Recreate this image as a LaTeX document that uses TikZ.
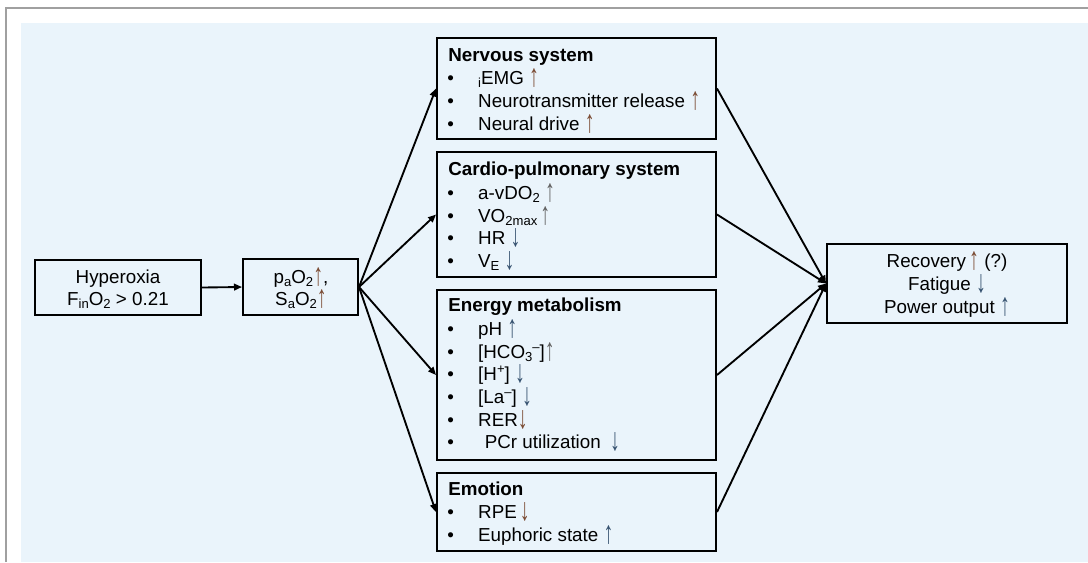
\documentclass[tikz,border=0pt]{standalone}
\usepackage{fontspec}
\setmainfont{Liberation Sans}
\usetikzlibrary{arrows.meta,fit}
\definecolor{panel}{HTML}{EAF4FB}
\definecolor{framegray}{HTML}{A0A0A0}
\definecolor{arrbr}{HTML}{7A4A32}
\definecolor{arrbl}{HTML}{34506E}
\definecolor{arrgy}{HTML}{606060}
\newcommand\lsub[1]{\raisebox{-2.8pt}{\fontsize{9.8}{10}\selectfont #1}}
\newcommand\lsup[1]{\raisebox{4.8pt}{\fontsize{9.8}{10}\selectfont #1}}
\newcommand\bul{\makebox[23.2pt][l]{•}}
\newcommand\ua[1][arrbr]{\textcolor{#1}{\smash{\raisebox{-1.6pt}{\scalebox{1.05}[1.7]{↑}}}}}
\newcommand\da[1][arrbl]{\textcolor{#1}{\smash{\raisebox{-1.6pt}{\scalebox{1.05}[1.7]{↓}}}}}
\begin{document}
\begin{tikzpicture}[x=0.75pt, y=-0.75pt,
  every node/.style={font=\fontsize{14.1}{17}\selectfont, text=black},
  box/.style={draw=black, line width=1.5pt, inner sep=0pt, rectangle},
  txt/.style={inner sep=0pt, anchor=base west},
  ctr/.style={inner sep=0pt, anchor=base},
  conn/.style={draw=black, line width=1.4pt, -{Triangle[length=6pt,width=5pt]}}]
\useasboundingbox (0,0) rectangle (1088,562);
\fill[panel] (21,23) rectangle (1088,562);
\draw[framegray, line width=1.2pt] (6,562) -- (6,8) -- (1088,8);

% boxes
\node[box, fit={(35,260) (201,315)}] (hy) {};
\node[box, fit={(243,259) (358,315)}] (pa) {};
\node[box, fit={(437,38) (716,139)}] (ns) {};
\node[box, fit={(437,152) (716,277)}] (cp) {};
\node[box, fit={(437,290) (716,460)}] (em) {};
\node[box, fit={(437,473) (716,551)}] (emo) {};
\node[box, fit={(827,244) (1067,323)}] (res) {};

% hyperoxia
\node[ctr] (hy1) at (118,283) {Hyperoxia};
\node[ctr] (hy2) at (118,305) {F\lsub{in}O\lsub{2} > 0.21};
% pa
\node[ctr] (pa1) at (301,283) {p\lsub{a}O\lsub{2}\ua,};
\node[ctr] (pa2) at (301,305) {S\lsub{a}O\lsub{2}\ua};

% nervous system
\node[txt] (ns0) at (448,61) {\bfseries Nervous system};
\node[txt] (ns1) at (447,84) {\bul\lsub{i}EMG \ua};
\node[txt] (ns2) at (447,107) {\bul Neurotransmitter release \ua};
\node[txt] (ns3) at (447,130) {\bul Neural drive \ua};

% cardio-pulmonary
\node[txt] (cp0) at (448,175) {\bfseries Cardio-pulmonary system};
\node[txt] (cp1) at (447,199) {\bul a-vDO\lsub{2} \ua[arrgy]};
\node[txt] (cp2) at (447,222) {\bul VO\lsub{2max}\,\ua[arrgy]};
\node[txt] (cp3) at (447,244) {\bul HR \da};
\node[txt] (cp4) at (447,267) {\bul V\lsub{E} \da};

% energy metabolism
\node[txt] (em0) at (448,311) {\bfseries Energy metabolism};
\node[txt] (em1) at (447,335) {\bul pH \ua[arrbl]};
\node[txt] (em2) at (447,358) {\bul [HCO\lsub{3}\lsup{–}]\ua[arrgy]};
\node[txt] (em3) at (447,380) {\bul [H\lsup{+}] \da};
\node[txt] (em4) at (447,403) {\bul [La\lsup{–}] \da};
\node[txt] (em5) at (447,426) {\bul RER\da[arrbr]};
\node[txt] (em6) at (447,448) {\bul\hspace{5pt}PCr utilization \hspace{3pt}\da};

% emotion
\node[txt] (eo0) at (448,495) {\bfseries Emotion};
\node[txt] (eo1) at (447,518) {\bul RPE\,\da[arrbr]};
\node[txt] (eo2) at (447,541) {\bul Euphoric state \ua[arrbl]};

% result
\node[ctr] (rs1) at (947,267) {Recovery\,\ua\ (?)};
\node[ctr] (rs2) at (947,290) {Fatigue \da[arrbl]};
\node[ctr] (rs3) at (947,313) {Power output \ua[arrbl]};

% connectors
\draw[conn] (hy.east) -- (pa.west);
\draw[conn] (pa.east) -- (ns.west);
\draw[conn] (pa.east) -- (cp.west);
\draw[conn] (pa.east) -- (em.west);
\draw[conn] (pa.east) -- (emo.west);
\draw[conn] (ns.east) -- (res.west);
\draw[conn] (cp.east) -- (res.west);
\draw[conn] (em.east) -- (res.west);
\draw[conn] (emo.east) -- (res.west);
\end{tikzpicture}
\end{document}
